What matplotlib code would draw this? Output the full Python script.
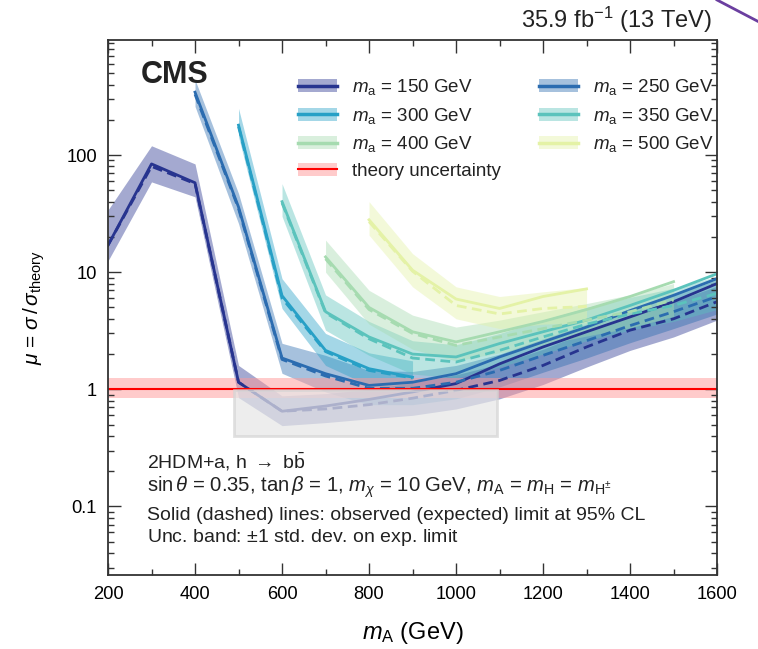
import matplotlib
matplotlib.use("Agg")
import matplotlib.pyplot as plt
from matplotlib.patches import Patch, Rectangle
from matplotlib.lines import Line2D
from matplotlib.ticker import MultipleLocator, FixedLocator, FixedFormatter, LogLocator, NullFormatter

plt.rcParams['font.family'] = ['Liberation Sans', 'DejaVu Sans']
plt.rcParams['mathtext.fontset'] = 'custom'
plt.rcParams['mathtext.rm'] = 'Liberation Sans'
plt.rcParams['mathtext.it'] = 'Liberation Sans:italic'
plt.rcParams['mathtext.bf'] = 'Liberation Sans:bold'
plt.rcParams['text.color'] = '#222222'

# limits per m_a hypothesis: observed, expected, -1 sd, +1 sd
x150 = [200, 300, 400, 500, 600, 700, 800, 900, 1000, 1100, 1200, 1300, 1400, 1500, 1600]
obs150 = [17, 84, 58, 1.15, 0.65, 0.72, 0.82, 0.95, 1.12, 1.65, 2.3, 3.1, 4.15, 5.6, 8.0]
exp150 = [17, 80, 57, 1.15, 0.65, 0.68, 0.74, 0.84, 0.98, 1.19, 1.6, 2.3, 3.2, 4.0, 5.6]
lo150 = [12.5, 59, 44, 0.85, 0.49, 0.52, 0.56, 0.6, 0.68, 0.83, 1.1, 1.55, 2.15, 2.8, 3.9]
hi150 = [34, 120, 84, 1.6, 0.88, 0.92, 1.0, 1.14, 1.33, 1.65, 2.2, 3.1, 4.3, 5.6, 7.6]

x250 = [400, 500, 600, 700, 800, 900, 1000, 1100, 1200, 1300, 1400, 1500, 1600]
obs250 = [344, 36, 1.85, 1.36, 1.08, 1.15, 1.36, 1.89, 2.54, 3.4, 4.7, 6.35, 8.8]
exp250 = [330, 35, 1.8, 1.3, 1.02, 1.02, 1.15, 1.45, 1.95, 2.6, 3.5, 4.6, 6.2]
lo250 = [260, 26, 1.37, 0.95, 0.74, 0.74, 0.83, 1.05, 1.4, 1.85, 2.5, 3.3, 4.4]
hi250 = [440, 47, 2.47, 1.95, 1.45, 1.42, 1.6, 2.0, 2.7, 3.6, 4.9, 6.4, 8.6]

x300 = [500, 600, 700, 800, 900]
obs300 = [180, 6.3, 2.15, 1.5, 1.27]
exp300 = [175, 6.0, 2.1, 1.45, 1.25]
lo300 = [144, 4.9, 1.6, 1.08, 0.92]
hi300 = [250, 8.8, 3.0, 2.05, 1.75]

x350 = [600, 700, 800, 900, 1000, 1100, 1200, 1300, 1400, 1500, 1600]
obs350 = [40, 4.6, 2.8, 2.0, 1.89, 2.46, 3.1, 3.9, 5.2, 7.0, 9.7]
exp350 = [39, 4.5, 2.7, 1.85, 1.71, 2.15, 2.8, 3.6, 4.4, 5.2, 6.6]
lo350 = [30, 3.2, 1.95, 1.35, 1.25, 1.55, 2.0, 2.6, 3.2, 3.8, 4.8]
hi350 = [57, 6.4, 3.8, 2.6, 2.4, 3.0, 3.9, 5.0, 6.1, 7.3, 9.2]

x400 = [700, 800, 900, 1000, 1100, 1200, 1300, 1400, 1500]
obs400 = [13.5, 5.0, 3.1, 2.54, 3.1, 3.8, 4.8, 6.2, 8.3]
exp400 = [13.0, 4.8, 3.0, 2.37, 2.8, 3.3, 3.9, 4.6, 5.8]
lo400 = [10, 3.6, 2.2, 1.75, 2.05, 2.4, 2.85, 3.35, 4.2]
hi400 = [18.8, 7.0, 4.3, 3.4, 3.9, 4.6, 5.4, 6.4, 8.0]

x500 = [800, 900, 1000, 1100, 1200, 1300]
obs500 = [28, 10.4, 5.9, 4.9, 6.2, 7.2]
exp500 = [27, 10.2, 5.2, 4.4, 4.9, 5.1]
lo500 = [20.7, 7.5, 4.0, 3.3, 3.6, 3.7]
hi500 = [40, 14.4, 7.5, 6.2, 6.8, 7.4]

labels = ['150', '250', '300', '350', '400', '500']
colors = ['#27348f', '#2b6cb0', '#27a0c6', '#5bc3bc', '#a6dbb0', '#e4f2a6']
series = [(x150, obs150, exp150, lo150, hi150),
          (x250, obs250, exp250, lo250, hi250),
          (x300, obs300, exp300, lo300, hi300),
          (x350, obs350, exp350, lo350, hi350),
          (x400, obs400, exp400, lo400, hi400),
          (x500, obs500, exp500, lo500, hi500)]

fig = plt.figure(figsize=(7.58, 6.49), dpi=100)
ax = fig.add_axes([0.1425, 0.114, 0.8035, 0.8244])

handles = {}
for lab, col, (x, obs, exp, lo, hi) in zip(labels, colors, series):
    ax.fill_between(x, lo, hi, color=col, alpha=0.42, lw=0)
    ax.plot(x, exp, color=col, lw=2, ls=(0, (3.5, 2)))
    ax.plot(x, obs, color=col, lw=2)
    handles[lab] = (Patch(facecolor=col, alpha=0.42, lw=0), Line2D([], [], color=col, lw=2.5))

# theory line and band
ax.axhspan(0.85, 1.25, color='#ff9999', alpha=0.5, lw=0)
ax.axhline(1, color='#ff0000', lw=1.5)
th = (Patch(facecolor='#ff9999', alpha=0.5, lw=0), Line2D([], [], color='#ff0000', lw=1.5))

# grey box
ax.add_patch(Rectangle((490, 0.4), 603, 0.58, facecolor='#e6e6e6', alpha=0.7,
                       edgecolor='#d4d4d4', lw=2, zorder=5))

ax.set_xlim(200, 1600)
ax.set_ylim(0.026, 960)
ax.set_yscale('log')
ax.xaxis.set_major_locator(MultipleLocator(200))
ax.xaxis.set_minor_locator(MultipleLocator(100))
ax.yaxis.set_major_locator(FixedLocator([0.1, 1, 10, 100]))
ax.yaxis.set_major_formatter(FixedFormatter(['0.1', '1', '10', '100']))
ax.yaxis.set_minor_locator(LogLocator(base=10, subs=range(2, 10)))
ax.yaxis.set_minor_formatter(NullFormatter())
ax.tick_params(which='both', direction='in', top=True, right=True, labelsize=13.2,
               color='#333333', width=1)
ax.tick_params(which='major', length=9, pad=8)
ax.tick_params(which='minor', length=4.5)
for s in ax.spines.values():
    s.set_linewidth(1.3)
    s.set_color('#333333')

ax.set_xlabel(r'$m_{\rm A}$ (GeV)', fontsize=17, labelpad=12)
ax.set_ylabel(r'$\mu$ = $\sigma\,/\,\sigma_{\rm theory}$', fontsize=15, labelpad=14)

leg_h = [handles['150'], handles['300'], handles['400'], th,
         handles['250'], handles['350'], handles['500']]
leg_l = [r'$m_{\rm a}$ = 150 GeV', r'$m_{\rm a}$ = 300 GeV', r'$m_{\rm a}$ = 400 GeV',
         'theory uncertainty', r'$m_{\rm a}$ = 250 GeV', r'$m_{\rm a}$ = 350 GeV',
         r'$m_{\rm a}$ = 500 GeV']
ax.legend(leg_h, leg_l, ncol=2, loc='upper left', bbox_to_anchor=(0.312, 0.93),
          frameon=False, fontsize=13.5, handlelength=2.1, handleheight=0.7,
          handletextpad=0.8, columnspacing=2.0, labelspacing=0.45, borderpad=0,
          borderaxespad=0)

ax.text(0.053, 0.963, 'CMS', transform=ax.transAxes, fontsize=22, fontweight='bold',
        va='top', ha='left')
ax.text(0.992, 1.01, r'35.9 fb$^{-1}$ (13 TeV)', transform=ax.transAxes, fontsize=17,
        ha='right', va='bottom')

tx = 0.064
fs = 14
ax.text(tx, 0.211, r'2HDM+a, h $\rightarrow$ b$\bar{\rm b}$', transform=ax.transAxes,
        fontsize=fs, va='center')
ax.text(tx, 0.164, r'sin$\,\theta$ = 0.35, tan$\,\beta$ = 1, $m_\chi$ = 10 GeV, '
        r'$m_{\rm A}$ = $m_{\rm H}$ = $m_{\rm H^{\pm}}$', transform=ax.transAxes,
        fontsize=14.6, va='center')
ax.text(tx, 0.112, 'Solid (dashed) lines: observed (expected) limit at 95% CL',
        transform=ax.transAxes, fontsize=fs, va='center')
ax.text(tx, 0.071, r'Unc. band: $\pm$1 std. dev. on exp. limit',
        transform=ax.transAxes, fontsize=fs, va='center')

# stray line at the top right corner
fig.add_artist(Line2D([0.946, 1.0], [1.0, 0.967], transform=fig.transFigure,
                      color='#6b3fa0', lw=2))

fig.savefig('out.png', dpi=100)
